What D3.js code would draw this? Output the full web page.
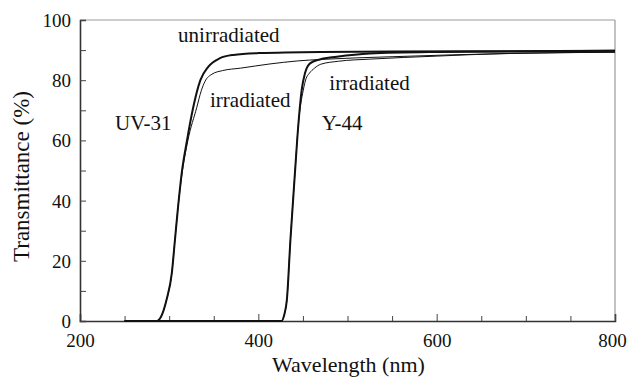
<!DOCTYPE html>
<html>
<head>
<meta charset="utf-8">
<script src="https://cdn.jsdelivr.net/npm/d3@7"></script>
<style>
  html, body { margin: 0; padding: 0; background: #fff; }
  svg { display: block; }
</style>
</head>
<body>
<svg id="chart" width="627" height="378"></svg>
<script>
// ---- Data ----
const uv31UnirrWl = [250, 280, 286, 291, 297, 303, 306.5, 310, 314, 320, 327, 335, 344, 357, 372, 400, 470, 550, 650, 800];
const uv31UnirrT  = [0,   0,   0,   1.5, 7,   16,  27,    38,  49,  60,  71,  80,  84.5, 87.3, 88.4, 89.0, 89.4, 89.5, 89.6, 89.8];

const uv31IrrWl = [250, 280, 286, 291, 297, 303, 306.5, 310, 314, 321, 331, 336, 340, 348, 360, 380, 413, 444, 470, 550, 685, 800];
const uv31IrrT  = [0,   0,   0,   1.5, 7,   16,  27,    38,  48,  60,  71,  76.5, 79.5, 82, 83.2, 84.0, 85.4, 86.4, 86.9, 87.8, 88.9, 89.3];

const y44UnirrWl = [250, 420, 426, 429, 432, 436, 441, 445, 448.6, 452.3, 458, 469, 488, 525, 600, 800];
const y44UnirrT  = [0,   0,   0,   2,   7,   27,  49,  65.7, 76.7, 82.3,  85.6, 86.9, 87.8, 88.9, 89.4, 89.8];

const y44IrrWl = [250, 420, 426, 429, 432, 436, 441, 445, 450.4, 453.5, 457.2, 463, 470, 490, 525, 600, 670, 800];
const y44IrrT  = [0,   0,   0,   2,   7,   27,  49,  65.7, 76.7, 80.5, 82.3, 84.0, 85.3, 86.3, 87.0, 88.0, 88.8, 89.3];

const xTickLabels = [200, 400, 600, 800];
const xMinorTicks = [250, 300, 350, 450, 500, 550, 650, 700, 750];
const yTickLabels = [0, 20, 40, 60, 80, 100];
const yMinorTicks = [10, 30, 50, 70, 90];

const labelTexts = ["unirradiated", "irradiated", "UV-31", "irradiated", "Y-44"];
const labelWl    = [310, 345.8, 239.3, 479.6, 471];
const labelT     = [92.7, 71.2, 63.45, 76.7, 63.45];

// ---- Layout ----
const FONT = "'Liberation Serif', 'Times New Roman', serif";
const W = 627, H = 378;
const margin = { left: 80, right: 12, top: 20, bottom: 57 };
const svg = d3.select("#chart");
const x = d3.scaleLinear().domain([200, 800]).range([margin.left, W - margin.right]);
const y = d3.scaleLinear().domain([0, 100]).range([H - margin.bottom, margin.top]);

// frame: top and right (light)
svg.append("line").attr("x1", x(200)).attr("x2", x(800)).attr("y1", y(100)).attr("y2", y(100))
  .attr("stroke", "#999").attr("stroke-width", 1.2);
svg.append("line").attr("x1", x(800)).attr("x2", x(800)).attr("y1", y(100)).attr("y2", y(0))
  .attr("stroke", "#999").attr("stroke-width", 1.2);

// axes
const xAxis = d3.axisBottom(x).tickValues(xTickLabels).tickSize(-7).tickPadding(13).tickFormat(d3.format("d"));
const gx = svg.append("g").attr("transform", `translate(0,${y(0)})`).call(xAxis);
gx.selectAll(".tick text").filter(d => d === 800).attr("dx", -3);
const xMinor = d3.axisBottom(x).tickValues(xMinorTicks).tickSize(-5).tickFormat("");
const gxm = svg.append("g").attr("transform", `translate(0,${y(0)})`).call(xMinor);
gxm.select(".domain").remove();

const yAxis = d3.axisLeft(y).tickValues(yTickLabels).tickSize(-6).tickPadding(9).tickFormat(d3.format("d"));
const gy = svg.append("g").attr("transform", `translate(${x(200)},0)`).call(yAxis);
const yMinor = d3.axisLeft(y).tickValues(yMinorTicks).tickSize(-6).tickFormat("");
const gym = svg.append("g").attr("transform", `translate(${x(200)},0)`).call(yMinor);
gym.select(".domain").remove();

[gx, gy, gxm, gym].forEach(g => g.selectAll(".tick line").attr("stroke", "#444"));
[gx, gy].forEach(g => {
  g.select(".domain").attr("stroke", "#333").attr("stroke-width", 1.6);
  g.selectAll(".tick text").style("font-family", FONT).style("font-size", "19px").attr("fill", "#111");
});
gy.selectAll(".tick text").attr("dy", "0.34em");

// curves
const line = d3.line().x(d => x(d[0])).y(d => y(d[1])).curve(d3.curveMonotoneX);
function series(wl, t) { return wl.map((w, i) => [w, t[i]]); }
const curves = [
  { d: series(uv31IrrWl, uv31IrrT), w: 1.0 },
  { d: series(y44IrrWl, y44IrrT), w: 1.0 },
  { d: series(uv31UnirrWl, uv31UnirrT), w: 2.0 },
  { d: series(y44UnirrWl, y44UnirrT), w: 2.0 }
];
svg.append("g").selectAll("path").data(curves).join("path")
  .attr("d", c => line(c.d)).attr("fill", "none").attr("stroke", "#111")
  .attr("stroke-width", c => c.w).attr("stroke-linejoin", "round");

// labels
svg.append("g").selectAll("text").data(labelTexts).join("text")
  .attr("x", (d, i) => x(labelWl[i])).attr("y", (d, i) => y(labelT[i]))
  .style("font-family", FONT).style("font-size", "21px").attr("fill", "#111").text(d => d);

// axis titles
svg.append("text").attr("x", (x(200) + x(800)) / 2 + 1).attr("y", 372)
  .attr("text-anchor", "middle").style("font-family", FONT).style("font-size", "22px")
  .attr("fill", "#111").text("Wavelength (nm)");
svg.append("text").attr("transform", `translate(29,${(y(0) + y(100)) / 2 + 6}) rotate(-90)`)
  .attr("text-anchor", "middle").style("font-family", FONT).style("font-size", "23px")
  .attr("fill", "#111").text("Transmittance (%)");
</script>
</body>
</html>
